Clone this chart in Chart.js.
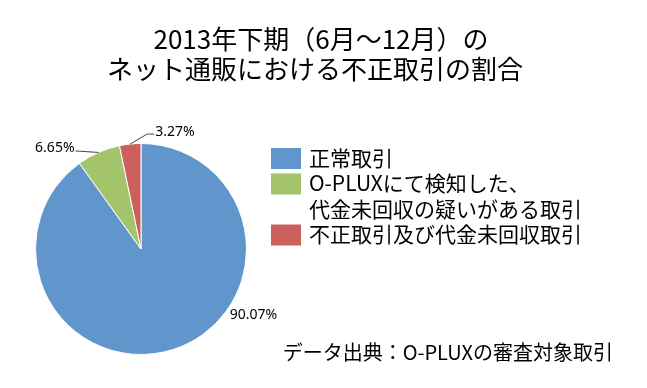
<!DOCTYPE html>
<html>
<head>
<meta charset="utf-8">
<script src="https://cdn.jsdelivr.net/npm/chart.js@4"></script>
<style>
  html, body { margin: 0; padding: 0; background: #fff; }
  #wrap { position: relative; width: 647px; height: 388px; }
</style>
</head>
<body>
<div id="wrap"><canvas id="chart" width="647" height="388"></canvas></div>
<script>
const titleLines = ['2013年下期（6月～12月）の', 'ネット通販における不正取引の割合'];
const categories = [
    ['正常取引'],
    ['O-PLUXにて検知した、', '代金未回収の疑いがある取引'],
    ['不正取引及び代金未回収取引'],
];
const shares = [90.07, 6.65, 3.27];
const shareLabels = ['90.07%', '6.65%', '3.27%'];
const colors = ['#6096CB', '#A4C46B', '#CC605D'];
const sourceNote = 'データ出典：O-PLUXの審査対象取引';

const JP = '"Noto Sans CJK JP", "Noto Sans", sans-serif';

// titles, legend, value labels and the note are painted after the pie
const decorations = {
    id: 'decorations',
    afterDraw(chart) {
        const ctx = chart.ctx;
        ctx.save();
        ctx.fillStyle = '#000';
        ctx.textBaseline = 'middle';

        // title
        ctx.font = '26px ' + JP;
        ctx.textAlign = 'center';
        ctx.fillText(titleLines[0], 321, 39);
        ctx.fillText(titleLines[1], 315, 69);

        // legend
        let y = 158;
        ctx.textAlign = 'left';
        ctx.font = '21px ' + JP;
        categories.forEach((lines, i) => {
            ctx.fillStyle = colors[i];
            ctx.fillRect(271, y - 10, 30, 21);
            ctx.fillStyle = '#000';
            lines.forEach((line) => {
                ctx.fillText(line, 309, y);
                y += 25.5;
            });
        });

        // value labels from the arcs
        const arcs = chart.getDatasetMeta(0).data;
        ctx.font = '14px "Noto Sans", sans-serif';
        ctx.strokeStyle = '#444';
        ctx.lineWidth = 1;
        arcs.forEach((arc, i) => {
            const p = arc.getProps(['x', 'y', 'startAngle', 'endAngle', 'outerRadius'], true);
            const mid = (p.startAngle + p.endAngle) / 2;
            const ex = p.x + Math.cos(mid) * p.outerRadius;
            const ey = p.y + Math.sin(mid) * p.outerRadius;
            if (i === 0) {
                const a = p.startAngle + (p.endAngle - p.startAngle) * 0.39;
                ctx.textAlign = 'left';
                ctx.fillText(shareLabels[i], p.x + Math.cos(a) * p.outerRadius + 4, p.y + Math.sin(a) * p.outerRadius + 3);
            } else if (i === 1) {
                ctx.beginPath();
                ctx.moveTo(ex, ey);
                ctx.lineTo(ex - 23, ey - 1.5);
                ctx.stroke();
                ctx.textAlign = 'right';
                ctx.fillText(shareLabels[i], ex - 24, ey - 4);
            } else {
                ctx.beginPath();
                ctx.moveTo(ex, ey);
                ctx.lineTo(ex + 17, ey - 10);
                ctx.lineTo(ex + 24, ey - 10);
                ctx.stroke();
                ctx.textAlign = 'left';
                ctx.fillText(shareLabels[i], ex + 25, ey - 12);
            }
        });

        // source note
        ctx.font = '20px ' + JP;
        ctx.textAlign = 'right';
        ctx.fillText(sourceNote, 613, 352);
        ctx.restore();
    },
};

new Chart(document.getElementById('chart'), {
    type: 'pie',
    data: {
        labels: categories.map((lines) => lines.join('')),
        datasets: [{
            data: shares,
            backgroundColor: colors,
            borderColor: '#ffffff',
            borderWidth: 1,
        }],
    },
    options: {
        responsive: false,
        animation: false,
        layout: { padding: { left: 35, right: 400, top: 143, bottom: 33 } },
        plugins: {
            legend: { display: false },
            title: { display: false },
            tooltip: { enabled: false },
        },
    },
    plugins: [decorations],
});
</script>
</body>
</html>
